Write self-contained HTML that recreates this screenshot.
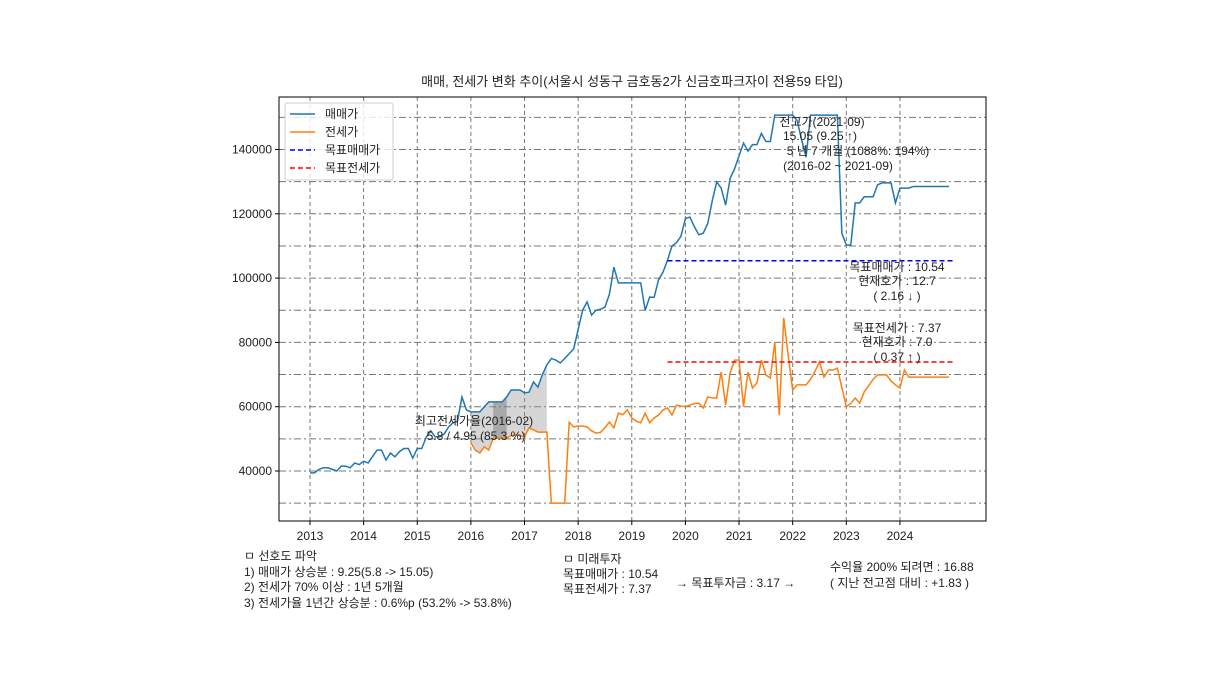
<!DOCTYPE html>
<html><head><meta charset="utf-8"><style>
body{margin:0;background:#fff;}
svg text{font-family:"Liberation Sans","Noto Sans CJK KR",sans-serif;font-size:12px;fill:#222;}
</style></head><body>
<svg id="chart" width="1216" height="684" xmlns="http://www.w3.org/2000/svg">
<rect width="1216" height="684" fill="#fff"/>
<g id="grid"></g>
<g id="fills"></g>
<g id="series"></g>
<rect x="279" y="97" width="707" height="424" fill="none" stroke="#000" stroke-width="1"/>
<g id="axes"></g>
<text x="632" y="86" text-anchor="middle" style="font-size:13px">매매, 전세가 변화 추이(서울시 성동구 금호동2가 신금호파크자이 전용59 타입)</text>
<g>
<rect x="285" y="103" width="108" height="77" fill="#fff" fill-opacity="0.8" stroke="#ccc" rx="2"/>
<line x1="290" y1="114" x2="315" y2="114" stroke="#1f77b4" stroke-width="1.5"/><text x="325" y="118">매매가</text>
<line x1="290" y1="132" x2="315" y2="132" stroke="#ff7f0e" stroke-width="1.5"/><text x="325" y="136">전세가</text>
<line x1="290" y1="150" x2="315" y2="150" stroke="#0000ff" stroke-width="1.5" stroke-dasharray="5,3"/><text x="325" y="154">목표매매가</text>
<line x1="290" y1="168" x2="315" y2="168" stroke="#ff0000" stroke-width="1.5" stroke-dasharray="5,3"/><text x="325" y="172">목표전세가</text>
</g>
<g text-anchor="middle">
<text x="822" y="126">전고가(2021-09)</text>
<text x="820" y="140">15.05 (9.25 ↑)</text>
<text x="858" y="155">5 년 7 개월 (1088%: 194%)</text>
<text x="838" y="170">(2016-02 ~ 2021-09)</text>
<text x="897" y="271">목표매매가 : 10.54</text>
<text x="897" y="285">현재호가 : 12.7</text>
<text x="897" y="300">( 2.16 ↓ )</text>
<text x="897" y="332">목표전세가 : 7.37</text>
<text x="897" y="346">현재호가 : 7.0</text>
<text x="897" y="361">( 0.37 ↑ )</text>
<text x="474" y="425">최고전세가율(2016-02)</text>
<text x="476" y="440">5.8 / 4.95 (85.3 %)</text>
</g>
<g>
<text x="244" y="560">ㅁ 선호도 파악</text>
<text x="244" y="576">1) 매매가 상승분 : 9.25(5.8 -&gt; 15.05)</text>
<text x="244" y="591">2) 전세가 70% 이상 : 1년 5개월</text>
<text x="244" y="607">3) 전세가율 1년간 상승분 : 0.6%p (53.2% -&gt; 53.8%)</text>
<text x="563" y="563">ㅁ 미래투자</text>
<text x="563" y="578">목표매매가 : 10.54</text>
<text x="563" y="593">목표전세가 : 7.37</text>
<text x="676" y="587">→  목표투자금 : 3.17  →</text>
<text x="830" y="571">수익율 200% 되려면 : 16.88</text>
<text x="830" y="587">( 지난 전고점 대비 : +1.83 )</text>
</g>
</svg>
<script>
const yearLabels=["2013","2014","2015","2016","2017","2018","2019","2020","2021","2022","2023","2024"];
const yTicks=[40000,60000,80000,100000,120000,140000];
const yGrid=[30000,40000,50000,60000,70000,80000,90000,100000,110000,120000,130000,140000,150000];
// sale price (thousands of 만원), monthly from 2013-01
const saleValues=[39.4,39.4,40.5,41,41,40.5,40,41.5,41.5,41,42.5,42,
43,42.5,44.5,46.5,46.5,43.4,45.6,44.4,46,47,47,44,
47,47,50.5,52.5,50.6,50.6,51.5,53.7,55,55.5,63,59,
58.4,58.4,58.4,60,61.5,61.5,61.5,61.5,63,65.2,65.2,65.2,
64.3,64.5,67.7,66.1,70,73,75,74.5,73.6,75,76.5,78,
84,90,92.6,88.5,90,90.3,91,95,103.4,98.5,98.5,98.5,
98.5,98.5,98.5,90,94.1,94,99.5,101.9,105.6,110,111,113,
118.5,119,116,113.5,114,117,124,129.9,128,122.7,131,134,
138,142,139.5,141.5,141.5,145,142.5,142.5,150.7,150.7,150.7,150.7,
150.7,149,143,137.6,150.7,150.7,150.7,150.7,150.7,150.7,150.7,114,
110.3,110.3,123.4,123.4,125.3,125.3,125.3,129,129.6,129.6,129.6,123.4,
128,128,128,128.5,128.5,128.5,128.5,128.5,128.5,128.5,128.5,128.5];
const jeonseStart=36;
const jeonseValues=[48.7,46.5,45.6,47.5,46.5,50.2,50.2,50.2,50.2,51,51.2,51,
50.6,53.4,52.8,52.1,52.1,52.1,30,30,30,30,55.2,53.7,
54,54,53.7,52.5,51.8,52,53.5,55.2,53.4,58,57.5,59,
56.5,55.5,55,58,55,56.5,57.4,59,59.6,57.4,60.5,60.2,
60,60.5,61,61.1,59.6,63,62.8,62.7,70.8,60.5,70.5,74.5,
74.5,60,70.8,65.8,67.4,74.5,69.9,68.9,80.1,57.4,87.6,76,
65.2,66.8,66.8,66.8,68.5,71,73.9,69.2,71.4,71.4,72,66,
60,61,62.7,61.1,64.6,66.5,68.5,69.9,69.9,69.9,68,66.8,
65.8,71.4,69.2,69.2,69.2,69.2,69.2,69.2,69.2,69.2,69.2,69.2];
const targetSale=105400, targetJeonse=73900, targetStart=80, targetEnd=144;
const shadeStart=36, shadeEnd=53, darkStart=41, darkEnd=44;

const NS="http://www.w3.org/2000/svg";
const X=m=>310+m*(53.63/12);
const Y=v=>471-(v-40000)*0.003215;
function mk(tag,attrs,parent){const e=document.createElementNS(NS,tag);for(const k in attrs)e.setAttribute(k,attrs[k]);document.getElementById(parent).appendChild(e);return e;}
yGrid.forEach(v=>{const l=mk('line',{x1:279,x2:986,y1:Y(v),y2:Y(v),stroke:'#777','stroke-width':1,'stroke-dasharray':'7,3,2,3'},'grid');

});
yearLabels.forEach((y,i)=>{const x=X(i*12);
const l=mk('line',{x1:x,x2:x,y1:97,y2:521,stroke:'#777','stroke-width':1,'stroke-dasharray':'4,3'},'grid');


mk('line',{x1:x,x2:x,y1:521,y2:525,stroke:'#000'},'axes');
const t=mk('text',{x:x,y:540,'text-anchor':'middle'},'axes');t.textContent=y;

});
yTicks.forEach(v=>{mk('line',{x1:275,x2:279,y1:Y(v),y2:Y(v),stroke:'#000'},'axes');
const t=mk('text',{x:272,y:Y(v)+4,'text-anchor':'end'},'axes');t.textContent=v;

});
function band(a,b,fill,op){let top=[],bot=[];for(let m=a;m<=b;m++){top.push(X(m)+','+Y(saleValues[m]*1000));bot.unshift(X(m)+','+Y(jeonseValues[m-jeonseStart]*1000));}
return mk('polygon',{points:top.concat(bot).join(' '),fill:fill,'fill-opacity':op},'fills');}
const b1=band(shadeStart,shadeEnd,'#999',0.4);


const b2=band(darkStart,darkEnd,'#666',0.4);


const sp=mk('polyline',{points:saleValues.map((v,i)=>X(i)+','+Y(v*1000)).join(' '),fill:'none',stroke:'#1f77b4','stroke-width':1.5},'series');


const jp=mk('polyline',{points:jeonseValues.map((v,i)=>X(i+jeonseStart)+','+Y(v*1000)).join(' '),fill:'none',stroke:'#ff7f0e','stroke-width':1.5},'series');


const ts=mk('line',{x1:X(targetStart),x2:X(targetEnd),y1:Y(targetSale),y2:Y(targetSale),stroke:'#0000ff','stroke-width':1.5,'stroke-dasharray':'5,3'},'series');


const tj=mk('line',{x1:X(targetStart),x2:X(targetEnd),y1:Y(targetJeonse),y2:Y(targetJeonse),stroke:'#ff0000','stroke-width':1.5,'stroke-dasharray':'5,3'},'series');


</script>
</body></html>
